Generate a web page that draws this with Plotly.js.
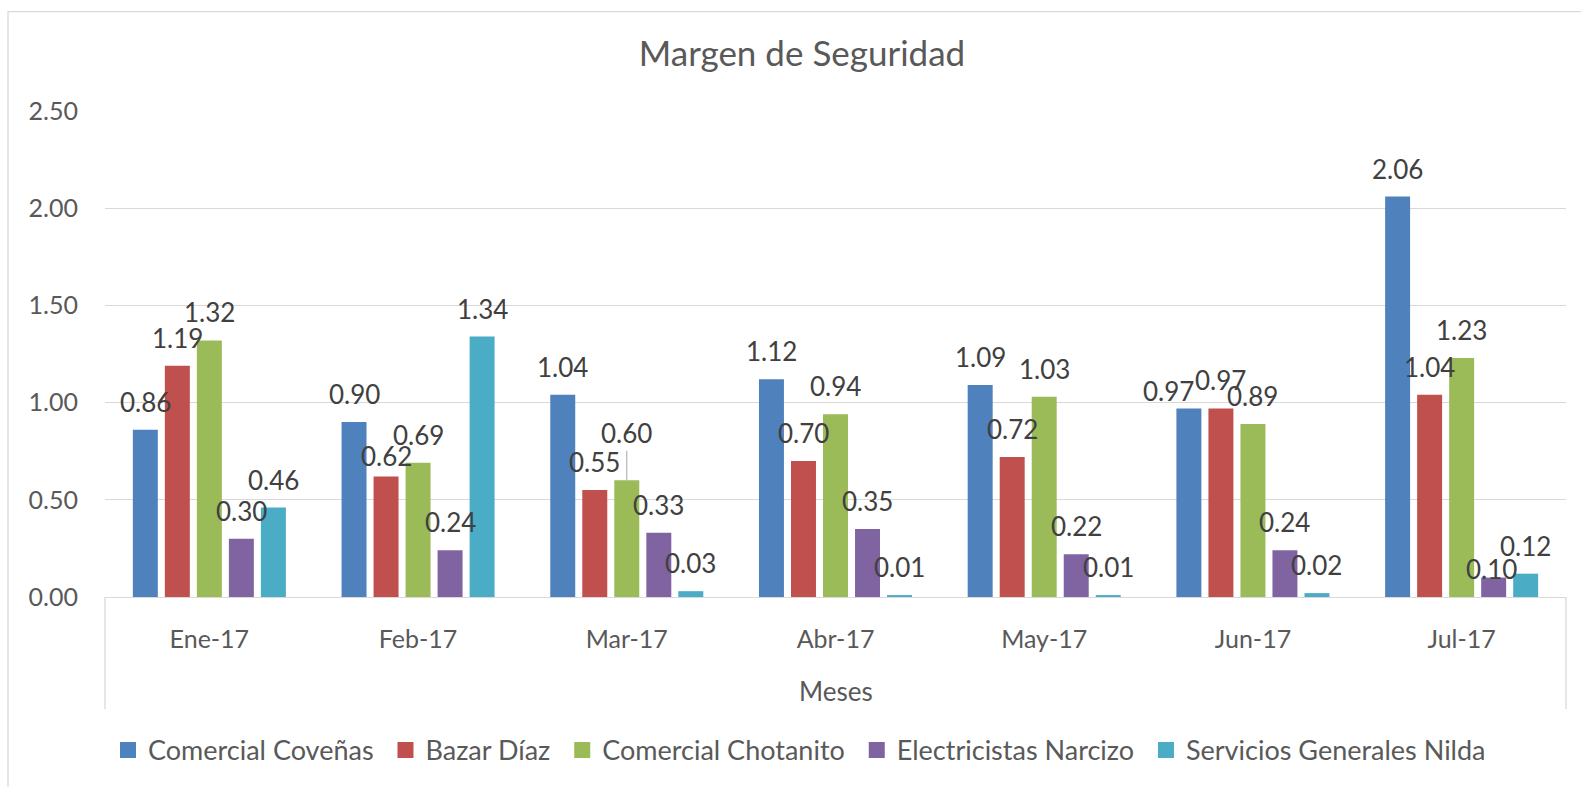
<!DOCTYPE html>
<html>
<head>
<meta charset="utf-8">
<script src="https://cdn.plot.ly/plotly-3.0.1.min.js"></script>
<style>
  html, body { margin: 0; padding: 0; background: #ffffff; }
  #chart { width: 1581px; height: 787px; }
</style>
</head>
<body>
<div id="chart"></div>
<script>
// ---- Data ----
const categories = ['Ene-17', 'Feb-17', 'Mar-17', 'Abr-17', 'May-17', 'Jun-17', 'Jul-17'];
const seriesNames = ['Comercial Coveñas', 'Bazar Díaz', 'Comercial Chotanito', 'Electricistas Narcizo', 'Servicios Generales Nilda'];
const comercialCovenas     = [0.86, 0.90, 1.04, 1.12, 1.09, 0.97, 2.06];
const bazarDiaz            = [1.19, 0.62, 0.55, 0.70, 0.72, 0.97, 1.04];
const comercialChotanito   = [1.32, 0.69, 0.60, 0.94, 1.03, 0.89, 1.23];
const electricistasNarcizo = [0.30, 0.24, 0.33, 0.35, 0.22, 0.24, 0.10];
const serviciosNilda       = [0.46, 1.34, 0.03, 0.01, 0.01, 0.02, 0.12];
const yTickVals = [0, 0.5, 1.0, 1.5, 2.0, 2.5];
const chartTitle = 'Margen de Seguridad';
const xTitle = 'Meses';

// ---- Styles ----
const seriesValues = [comercialCovenas, bazarDiaz, comercialChotanito, electricistasNarcizo, serviciosNilda];
const colors = ['#4F81BD', '#C0504D', '#9BBB59', '#8064A2', '#4BACC6'];
const FONT = 'Lato, "Open Sans", sans-serif';
const W = 1581, H = 787;
const M = { l: 105, r: 15, t: 111, b: 189.5 };
const BARGAP = 0.233, BARGROUPGAP = 0.22;

// label nudges (pixels) for individually-placed data labels, keyed "series,category"
const labelNudge = {
  '1,1': { dy: 8 },
  '2,2': { dy: -19, leader: true },
  '0,5': { dx: -20, dy: 11 },
  '3,6': { dx: -2, dy: 19 }
};

const plotW = W - M.l - M.r;
const plotH = H - M.t - M.b;
const slot = plotW / categories.length * (1 - BARGAP) / seriesNames.length;
const LABEL_RISE = 28;

const barTraces = seriesNames.map((name, i) => ({
  type: 'bar',
  name: name,
  legendgroup: 's' + i,
  showlegend: false,
  x: categories,
  y: seriesValues[i],
  marker: { color: colors[i] },
  hoverinfo: 'x+y+name'
}));

// legend-only entries (square swatches, like the original)
const legendTraces = seriesNames.map((name, i) => ({
  type: 'scatter',
  mode: 'markers',
  name: name + '\u00a0',
  legendgroup: 's' + i,
  showlegend: true,
  x: [categories[0]],
  y: [null],
  marker: { color: colors[i], symbol: 'square', size: 17 },
  hoverinfo: 'skip'
}));

const annotations = [];
seriesValues.forEach((vals, i) => {
  vals.forEach((v, j) => {
    const n = labelNudge[i + ',' + j] || {};
    const dx = (i - (seriesNames.length - 1) / 2) * slot + (n.dx || 0);
    const rise = LABEL_RISE - (n.dy || 0);
    const a = {
      x: categories[j], y: v, xref: 'x', yref: 'y',
      text: v.toFixed(2),
      font: { family: FONT, size: 26, color: '#404040' },
      xanchor: 'center', yanchor: 'middle'
    };
    if (n.leader) {
      Object.assign(a, {
        showarrow: true, arrowhead: 0, arrowwidth: 1, arrowcolor: '#A6A6A6',
        ax: 0, ay: -rise, xshift: dx, standoff: 0
      });
    } else {
      Object.assign(a, { showarrow: false, xshift: dx, yshift: rise });
    }
    annotations.push(a);
  });
});

// x title
annotations.push({
  xref: 'paper', yref: 'paper', x: 0.5, y: (597.5 - 692) / plotH,
  text: xTitle, showarrow: false, xanchor: 'center', yanchor: 'middle',
  font: { family: FONT, size: 26, color: '#595959' }
});

const gray = '#D9D9D9';
const shapes = [
  // category axis box sides
  { type: 'line', xref: 'paper', yref: 'paper', x0: 0, x1: 0, y0: 0, y1: -112 / plotH, line: { color: gray, width: 1.3 } },
  { type: 'line', xref: 'paper', yref: 'paper', x0: 1, x1: 1, y0: 0, y1: -112 / plotH, line: { color: gray, width: 1.3 } },
  // chart area border
  { type: 'rect', xref: 'paper', yref: 'paper',
    x0: (8 - M.l) / plotW, x1: (W + 20 - M.l) / plotW,
    y0: (597.5 - 11.5) / plotH, y1: (597.5 - H - 20) / plotH,
    line: { color: gray, width: 1.3 }, layer: 'below' }
];

const layout = {
  width: W, height: H,
  margin: M,
  paper_bgcolor: '#ffffff', plot_bgcolor: '#ffffff',
  barmode: 'group', bargap: BARGAP, bargroupgap: BARGROUPGAP,
  font: { family: FONT, color: '#595959' },
  title: {
    text: chartTitle, x: 802 / W, xanchor: 'center', y: 1 - 54 / H, yanchor: 'middle',
    font: { family: FONT, size: 35, color: '#595959' }
  },
  xaxis: {
    type: 'category', categoryarray: categories, categoryorder: 'array',
    showgrid: false, showline: true, linecolor: gray, linewidth: 1.3,
    ticks: '', tickfont: { family: FONT, size: 25, color: '#595959' },
    ticklabelstandoff: 20, zeroline: false, fixedrange: true
  },
  yaxis: {
    range: [0, 2.5], tickvals: yTickVals, tickformat: '.2f',
    showgrid: true, gridcolor: gray, gridwidth: 1.3, zeroline: false, showline: false,
    ticks: '', tickfont: { family: FONT, size: 25, color: '#595959' },
    ticklabelstandoff: 26, fixedrange: true
  },
  legend: {
    orientation: 'h', x: (108 - M.l) / plotW, xanchor: 'left',
    y: (597.5 - 751) / plotH, yanchor: 'middle',
    font: { family: FONT, size: 27, color: '#595959' },
    itemsizing: 'trace',
    traceorder: 'normal', itemclick: false, itemdoubleclick: false
  },
  showlegend: true,
  annotations: annotations,
  shapes: shapes
};

Plotly.newPlot('chart', barTraces.concat(legendTraces), layout, { displayModeBar: false, staticPlot: true });
</script>
</body>
</html>
